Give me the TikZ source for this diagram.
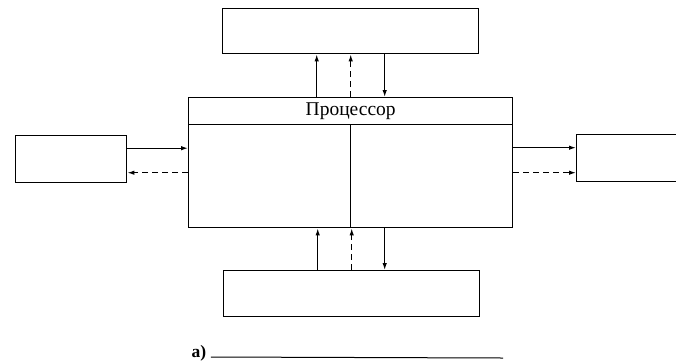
\documentclass[tikz,border=0pt]{standalone}
\usepackage{fontspec}
\setmainfont{Liberation Serif}
\usetikzlibrary{arrows.meta}
\begin{document}
\begin{tikzpicture}[x=1pt, y=-1pt, line width=1.4pt,
    blk/.style={draw, rectangle, inner sep=0pt, anchor=north west},
    arr/.style={line width=1.2pt, -{Latex[length=7pt,width=4.5pt]}},
    dsh/.style={arr, dash pattern=on 6pt off 4pt}]
  \useasboundingbox (0,0) rectangle (676,362);
  \node[blk, minimum width=256pt, minimum height=45pt] (mem) at (222,8) {};
  \node[blk, minimum width=324pt, minimum height=130pt] (cpu) at (188,97) {};
  \node[blk, minimum width=324pt, minimum height=27pt, font=\fontsize{19.5}{21}\selectfont] (hdr) at (188,97) {Процессор};
  \draw (hdr.south) -- (cpu.south);
  \node[blk, minimum width=111pt, minimum height=47pt] (lft) at (15,135) {};
  \node[blk, minimum width=130pt, minimum height=47pt] (rgt) at (576,134) {};
  \node[blk, minimum width=256pt, minimum height=46pt] (bot) at (223,270) {};
  % top
  \draw[arr] ([xshift=-34pt]cpu.north) -- ([xshift=-34pt]mem.south);
  \draw[dsh] (cpu.north) -- (mem.south);
  \draw[arr] ([xshift=34pt]mem.south) -- ([xshift=34pt]cpu.north);
  % left
  \draw[arr] ([yshift=11pt]lft.east) -- ([yshift=11pt]lft.east -| cpu.west);
  \draw[dsh] ([yshift=-13.5pt]lft.east -| cpu.west) -- ([yshift=-13.5pt]lft.east);
  % right
  \draw[arr] ([yshift=10.5pt]rgt.west -| cpu.east) -- ([yshift=10.5pt]rgt.west);
  \draw[dsh] ([yshift=-14.5pt]rgt.west -| cpu.east) -- ([yshift=-14.5pt]rgt.west);
  % bottom
  \draw[arr] ([xshift=-34pt]bot.north) -- ([xshift=-34pt]bot.north |- cpu.south);
  \draw[dsh] (bot.north) -- (bot.north |- cpu.south);
  \draw[arr] ([xshift=33pt]bot.north |- cpu.south) -- ([xshift=33pt]bot.north);
  % label
  \node[anchor=base west, inner sep=0pt, font=\bfseries\fontsize{17.5}{19}\selectfont] (lbl) at (191,357) {a)};
  \coordinate (lend) at (503,358);
  \draw[line width=1pt] ([xshift=4pt]lbl.base east) -- (lend);
\end{tikzpicture}
\end{document}
